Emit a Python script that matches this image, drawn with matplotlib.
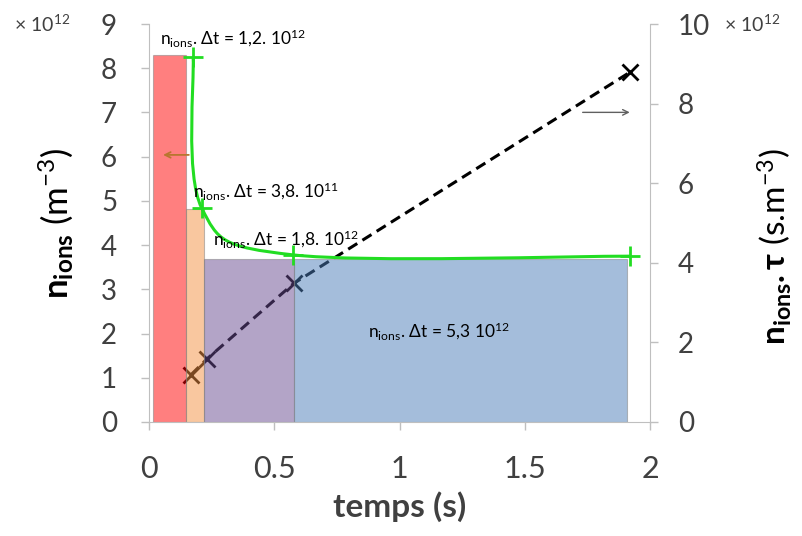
import matplotlib
matplotlib.use("Agg")
import matplotlib.pyplot as plt
from matplotlib.path import Path
from matplotlib.patches import PathPatch
import numpy as np

# ---------------- data (values in units of 1e12)
bar_left = [0.016, 0.148, 0.220, 0.578]
bar_right = [0.148, 0.220, 0.578, 1.910]
bar_height = [8.30, 4.82, 3.69, 3.69]
bar_colors = ['#ff0000', '#f59141', '#694b91', '#4b7db9']

t_pts = [0.176, 0.210, 0.574, 1.920]      # n_ions (left axis)
n_ions = [8.25, 4.84, 3.78, 3.75]

t_tau = [0.168, 0.232, 0.577, 1.920]      # n_ions.tau (right axis)
n_tau = [1.19, 1.59, 3.48, 8.79]

labels = [r'$\mathregular{n_{ions}}$. Δt = 1,2. 10$^{\mathregular{12}}$',
          r'$\mathregular{n_{ions}}$. Δt = 3,8. 10$^{\mathregular{11}}$',
          r'$\mathregular{n_{ions}}$. Δt = 1,8. 10$^{\mathregular{12}}$',
          r'$\mathregular{n_{ions}}$. Δt = 5,3 10$^{\mathregular{12}}$']
label_pos = [(0.044, 8.53), (0.176, 5.07), (0.257, 4.0), (0.874, 1.92)]

plt.rcParams['font.family'] = ['Lato', 'DejaVu Sans']
plt.rcParams['mathtext.fontset'] = 'custom'
plt.rcParams['mathtext.rm'] = 'Lato'
plt.rcParams['mathtext.it'] = 'Lato:italic'
plt.rcParams['mathtext.bf'] = 'Lato:bold'

TXT = '#404040'
GRID = '#bfbfbf'

fig = plt.figure(figsize=(8.03, 5.36), dpi=100)
ax = fig.add_axes([0.1856, 0.2127, 0.6239, 0.7425])
ax2 = ax.twinx()

ax.set_xlim(0, 2)
ax.set_ylim(0, 9)
ax2.set_ylim(0, 10)


def smooth_path(xs, ys, axis):
    # excel-like smoothed line, computed in screen space
    fig.canvas.draw()
    pts = axis.transData.transform(np.column_stack([xs, ys]))
    n = len(pts)
    verts = [pts[0]]
    codes = [Path.MOVETO]
    for i in range(n - 1):
        p0 = pts[max(i - 1, 0)]
        p1 = pts[i]
        p2 = pts[i + 1]
        p3 = pts[min(i + 2, n - 1)]
        c1 = p1 + (p2 - p0) / 6.0
        c2 = p2 - (p3 - p1) / 6.0
        verts += [c1, c2, p2]
        codes += [Path.CURVE4] * 3
    verts = axis.transData.inverted().transform(np.array(verts))
    return Path(verts, codes)


# dashed line first (drawn on the left axes but scaled by the right one)
ax.plot(t_tau, n_tau, transform=ax2.transData, color='black', lw=2.2,
        ls=(0, (3.5, 2)), marker='x', ms=11, mew=2, zorder=1)

for l, r, h, c in zip(bar_left, bar_right, bar_height, bar_colors):
    ax.bar(l, h, width=r - l, align='edge', color=c, alpha=0.5,
           edgecolor='#7f7f7f', linewidth=0.8, zorder=2)

ax.add_patch(PathPatch(smooth_path(t_pts, n_ions, ax), fill=False,
                       edgecolor='#22dd22', lw=2.2, zorder=3))
ax.plot(t_pts, n_ions, ls='none', marker='+', ms=14, mew=2,
        color='#22dd22', zorder=4)

for s, (x, y) in zip(labels, label_pos):
    ax.text(x, y, s, fontsize=12.5, color='black', va='baseline', zorder=5)

ax.annotate('', xy=(0.045, 6.04), xytext=(0.17, 6.04),
            arrowprops=dict(arrowstyle='->', color='#b8762f', lw=1.3), zorder=5)
ax2.annotate('', xy=(1.93, 7.78), xytext=(1.72, 7.78),
             arrowprops=dict(arrowstyle='->', color='#606060', lw=1.0))

for a in (ax, ax2):
    for s in a.spines.values():
        s.set_visible(False)
    a.tick_params(colors=GRID, labelcolor=TXT, length=6, width=1)

ax.spines['left'].set_visible(True)
ax.spines['left'].set_color(GRID)
ax.spines['bottom'].set_visible(True)
ax.spines['bottom'].set_color(GRID)
ax2.spines['right'].set_visible(True)
ax2.spines['right'].set_color(GRID)

ax.set_xticks([0, 0.5, 1, 1.5, 2])
ax.set_xticklabels(['0', '0.5', '1', '1.5', '2'])
ax.set_yticks(range(10))
ax2.set_yticks(range(0, 11, 2))
ax.tick_params(axis='y', labelsize=20, pad=17)
ax.tick_params(axis='x', labelsize=22, pad=18)
ax2.tick_params(axis='y', labelsize=20, pad=14)

ax.set_xlabel('temps (s)', fontsize=24, fontweight='bold', color=TXT, labelpad=6)
ax.set_ylabel(r'$\mathbf{n_{ions}}$ (m$^{\mathregular{-3}}$)', fontsize=25,
              color='black')
ax.yaxis.set_label_coords(-0.148, 0.5)
ax2.set_ylabel(r'$\mathbf{n_{ions}.\tau}$ (s.m$^{\mathregular{-3}}$)', fontsize=24,
               color='black', rotation=90)
ax2.yaxis.set_label_coords(1.212, 0.44)

fig.text(0.018, 0.94, '× 10$^{\\mathregular{12}}$', fontsize=14, color=TXT)
fig.text(0.902, 0.94, '× 10$^{\\mathregular{12}}$', fontsize=14, color=TXT)

fig.savefig('out.png', dpi=100)
